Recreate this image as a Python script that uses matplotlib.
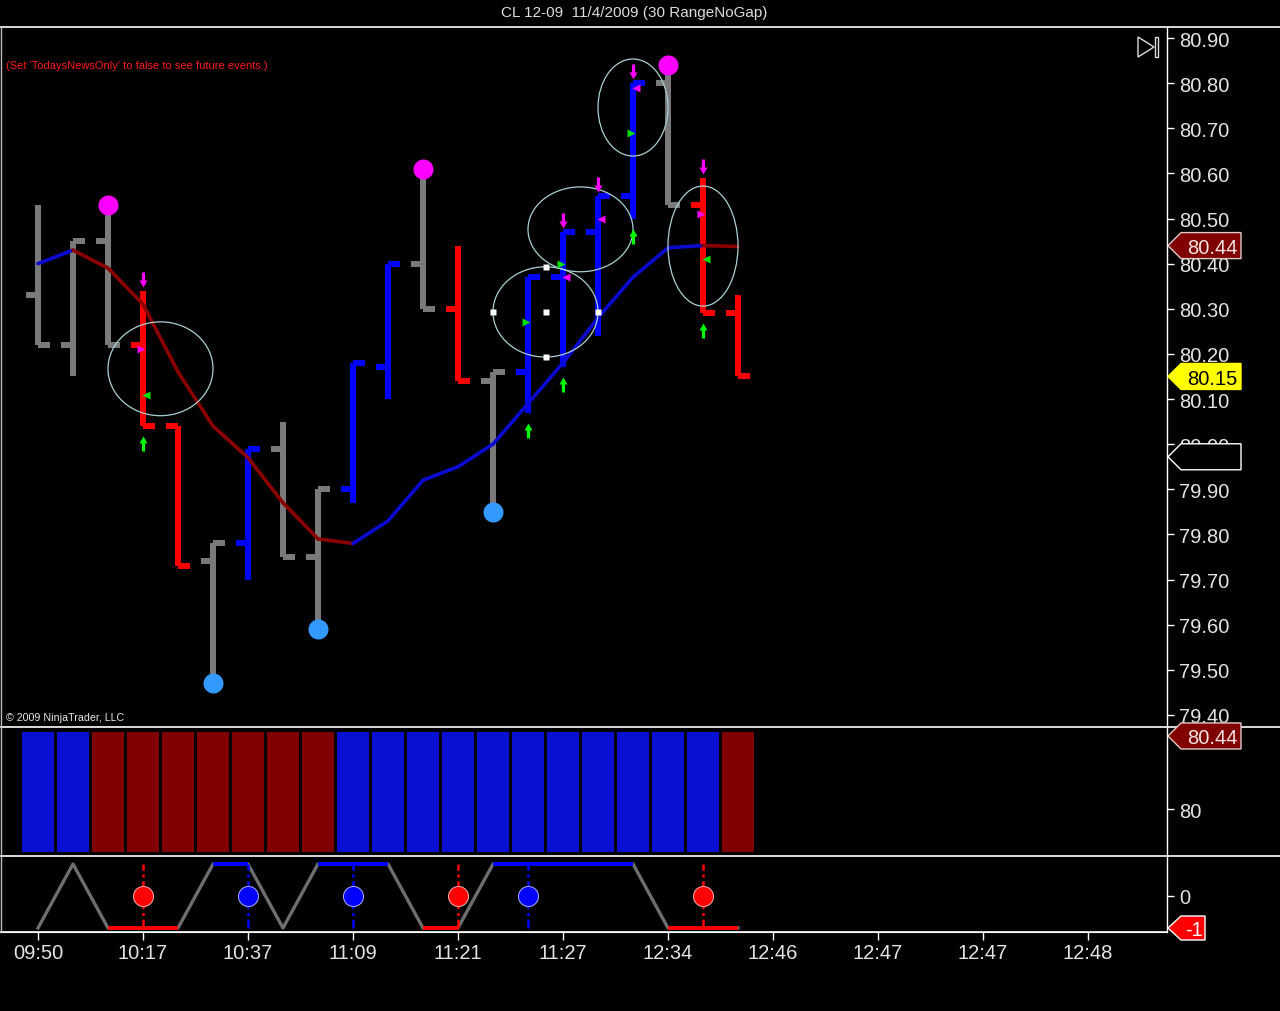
import matplotlib
matplotlib.use("Agg")
import matplotlib.pyplot as plt
from matplotlib.patches import Ellipse, Polygon
from matplotlib.path import Path
from matplotlib.lines import Line2D
from matplotlib.transforms import IdentityTransform
import numpy as np

plt.rcParams['font.family'] = ['Liberation Sans', 'DejaVu Sans']

# ---- values (one entry per range bar) ----
opens  = [80.33, 80.22, 80.45, 80.22, 80.04, 79.74, 79.78, 79.99, 79.75, 79.90, 80.17,
          80.40, 80.30, 80.14, 80.16, 80.37, 80.47, 80.55, 80.80, 80.53, 80.29]
highs  = [80.53, 80.45, 80.53, 80.34, 80.04, 79.78, 79.99, 80.05, 79.90, 80.18, 80.40,
          80.61, 80.44, 80.16, 80.37, 80.47, 80.55, 80.80, 80.84, 80.59, 80.33]
lows   = [80.22, 80.15, 80.22, 80.04, 79.73, 79.47, 79.70, 79.75, 79.59, 79.87, 80.10,
          80.30, 80.14, 79.85, 80.07, 80.17, 80.24, 80.50, 80.53, 80.29, 80.15]
closes = [80.22, 80.45, 80.22, 80.04, 79.73, 79.78, 79.99, 79.75, 79.90, 80.18, 80.40,
          80.30, 80.14, 80.16, 80.37, 80.47, 80.55, 80.80, 80.53, 80.29, 80.15]
bar_kind = ['g', 'g', 'g', 'r', 'r', 'g', 'b', 'g', 'g', 'b', 'b',
            'g', 'r', 'g', 'b', 'b', 'b', 'b', 'g', 'r', 'r']
ma = [80.40, 80.43, 80.39, 80.31, 80.16, 80.04, 79.97, 79.87, 79.79, 79.78, 79.83,
      79.92, 79.95, 80.00, 80.09, 80.18, 80.28, 80.37, 80.435, 80.44, 80.438]
box_trend = [1, 1, -1, -1, -1, -1, -1, -1, -1, 1, 1, 1, 1, 1, 1, 1, 1, 1, 1, 1, -1]
osc = [-1, 1, -1, -1, -1, 1, 1, -1, 1, 1, 1, -1, -1, 1, 1, 1, 1, 1, -1, -1, -1]

swing_high_bars = [2, 11, 18]
swing_low_bars = [5, 8, 13]
down_arrow_bars = [3, 15, 16, 17, 19]
up_arrow_bars = [3, 14, 15, 17, 19]
tri_bars   = [3, 3, 14, 15, 15, 16, 17, 17, 19, 19]
tri_prices = [80.21, 80.11, 80.27, 80.40, 80.37, 80.50, 80.69, 80.79, 80.51, 80.41]
tri_dirs   = ['>', '<', '>', '>', '<', '<', '>', '<', '>', '<']
tri_kind   = ['m', 'gr', 'gr', 'gr', 'm', 'm', 'gr', 'm', 'm', 'gr']
# circles: centre bar, centre price, width in bars, height in price
circ_x = [3.5, 14.5, 15.5, 17.0, 19.0]
circ_y = [80.167, 80.293, 80.476, 80.746, 80.439]
circ_w = [3.0, 3.0, 3.0, 2.0, 2.0]
circ_h = [0.208, 0.200, 0.188, 0.215, 0.266]
sell_sig = [3, 12, 19]
buy_sig = [6, 9, 14]
time_labels = ['09:50', '10:17', '10:37', '11:09', '11:21', '11:27',
               '12:34', '12:46', '12:47', '12:47', '12:48']
last_price = 80.15
ma_last = 80.44
other_tag = 79.972

W, H = 1280, 1012
BAR_COL = {'g': '#7a7a7a', 'r': '#ff0000', 'b': '#0000ff'}
TXT = '#e4e4e4'

fig = plt.figure(figsize=(W / 100, H / 100), dpi=100, facecolor='black')


def frac(x0, y0, x1, y1):
    # pixel box with top-left origin -> figure fraction rect
    return [x0 / W, 1 - y1 / H, (x1 - x0) / W, (y1 - y0) / H]


ax = fig.add_axes(frac(0, 28, 1167, 728))
axm = fig.add_axes(frac(0, 728, 1167, 857))
axb = fig.add_axes(frac(0, 857, 1167, 933))

n = len(opens)
x = np.arange(n)
x_lo = -38 / 35
x_hi = x_lo + 1167 / 35

for a in (ax, axm, axb):
    a.set_facecolor('black')
    a.set_xlim(x_lo, x_hi)
    for s in ('top', 'left', 'bottom'):
        a.spines[s].set_visible(False)
    a.spines['right'].set_color('white')
    a.spines['right'].set_linewidth(1.0)
    a.yaxis.tick_right()
    a.tick_params(axis='y', colors='white', labelcolor=TXT, length=5, width=1,
                  pad=3.5, labelsize=14.5, direction='out')
    a.tick_params(axis='x', bottom=False, labelbottom=False)

# ---- main price panel ----
ax.set_ylim(79.3732, 80.9244)
ax.set_yticks(np.round(np.arange(79.4, 80.91, 0.1), 2))
ax.set_yticklabels([f'{v:.2f}' for v in np.arange(79.4, 80.91, 0.1)])

cols = [BAR_COL[k] for k in bar_kind]
LW = 4.3
tk = 0.35
ax.vlines(x, lows, highs, colors=cols, lw=LW, zorder=2)
ax.hlines(opens, x - tk, x, colors=cols, lw=LW, zorder=2)
ax.hlines(closes, x, x + tk, colors=cols, lw=LW, zorder=2)

for i in range(n - 1):
    c = '#0a0ad0' if ma[i + 1] >= ma[i] else '#8b0000'
    ax.plot(x[i:i + 2], ma[i:i + 2], color=c, lw=2.6, zorder=3, solid_capstyle='round')

for cx, cy, cw, ch in zip(circ_x, circ_y, circ_w, circ_h):
    ax.add_patch(Ellipse((cx, cy), cw, ch, fill=False, ec='#a8d0d4', lw=0.9, zorder=4))

# selection handles on the lower circle
hx = [circ_x[1] - circ_w[1] / 2, circ_x[1], circ_x[1] + circ_w[1] / 2, circ_x[1], circ_x[1]]
hy = [circ_y[1], circ_y[1], circ_y[1], circ_y[1] + circ_h[1] / 2, circ_y[1] - circ_h[1] / 2]
ax.plot(hx, hy, 's', ms=4.4, color='white', mec='none', zorder=6)

ax.plot(swing_high_bars, [highs[i] for i in swing_high_bars], 'o', ms=14.4,
        color='#ff00ff', mec='none', zorder=5)
ax.plot(swing_low_bars, [lows[i] for i in swing_low_bars], 'o', ms=14.4,
        color='#3399ff', mec='none', zorder=5)

# arrow markers, built in pixel units and offset from the anchor point
down_verts = [(-1.6, 19), (1.6, 19), (1.6, 11), (4, 11), (0, 4), (-4, 11), (-1.6, 11), (-1.6, 19)]
up_verts = [(-1.6, -25), (1.6, -25), (1.6, -17), (4, -17), (0, -10), (-4, -17), (-1.6, -17), (-1.6, -25)]
down_path = Path(down_verts, closed=True)
up_path = Path(up_verts, closed=True)
ax.plot(down_arrow_bars, [highs[i] for i in down_arrow_bars], linestyle='none',
        marker=down_path, ms=2 * 19 * 0.72, color='#ff00ff', mec='none', zorder=6)
ax.plot(up_arrow_bars, [lows[i] for i in up_arrow_bars], linestyle='none',
        marker=up_path, ms=2 * 25 * 0.72, color='#00ff00', mec='none', zorder=6)

for b, p, d, k in zip(tri_bars, tri_prices, tri_dirs, tri_kind):
    dx = -0.06 if d == '>' else 0.08
    ax.plot(b + dx, p, marker=d, ms=6, color='#ff00ff' if k == 'm' else '#00e000',
            mec='none', zorder=6)

# ---- trend boxes panel ----
axm.set_ylim(79.717, 80.494)
axm.set_yticks([80])
axm.set_yticklabels(['80'])
axm.bar(x, 80.464 - 79.741, bottom=79.741, width=0.94,
        color=['#0a10d2' if t > 0 else '#800000' for t in box_trend], zorder=2)

# ---- oscillator panel ----
axb.set_ylim(-1.125, 1.25)
axb.set_yticks([0])
axb.set_yticklabels(['0'])
axb.plot(x, osc, color='#6e6e6e', lw=2.4, zorder=2)
for i in range(n - 1):
    if osc[i] == osc[i + 1]:
        axb.plot(x[i:i + 2], osc[i:i + 2], color='#ff0000' if osc[i] < 0 else '#0000ff',
                 lw=2.8, zorder=3, solid_capstyle='butt')
dash = (0, (3.5, 1.5, 1.2, 1.5))
axb.vlines(sell_sig, -1, 1, colors='#ff0000', lw=1.8, linestyles=dash, zorder=2)
axb.vlines(buy_sig, -1, 1, colors='#0000ff', lw=1.8, linestyles=dash, zorder=2)
axb.plot(sell_sig, [0] * len(sell_sig), 'o', ms=14.4, color='#ff0000', mec='#ffb0b0',
         mew=0.7, zorder=4)
axb.plot(buy_sig, [0] * len(buy_sig), 'o', ms=14.4, color='#0000ff', mec='#b0b0ff',
         mew=0.7, zorder=4)

axb.spines['bottom'].set_visible(True)
axb.spines['bottom'].set_color('white')
axb.set_xticks(np.arange(0, 3 * len(time_labels), 3))
axb.set_xticklabels(time_labels)
axb.tick_params(axis='x', bottom=True, labelbottom=True, colors='white', labelcolor=TXT,
                length=6, width=1, labelsize=14.5, pad=2)

# ---- frame lines ----
for yy, x1 in ((28, W), (728, W), (857, W), (933, 1167)):
    fig.add_artist(Line2D([0, x1], [H - yy, H - yy], color='white', lw=1.2,
                          transform=IdentityTransform()))
fig.add_artist(Line2D([0.5, 0.5], [H - 28, H - 933], color='#bbbbbb', lw=1,
                      transform=IdentityTransform()))


# ---- price tags on the axis ----
def tag(a, val, text, fc, tc, ec, w=74, h=26):
    xr = a.get_position().x1 * W
    yv = a.transData.transform((0, val))[1]
    pts = [(xr + 1, yv), (xr + 14, yv + h / 2), (xr + w, yv + h / 2),
           (xr + w, yv - h / 2), (xr + 14, yv - h / 2)]
    fig.add_artist(Polygon(pts, closed=True, fc=fc, ec=ec, lw=1,
                           transform=IdentityTransform(), zorder=5))
    if text:
        fig.text(xr + (14 + w) / 2 + 1, yv, text, color=tc, fontsize=14.5, ha='center',
                 va='center_baseline', transform=IdentityTransform(), zorder=6)


tag(ax, ma_last, f'{ma_last:.2f}', '#800000', '#f4e4e4', '#e0c8c8')
tag(ax, last_price, f'{last_price:.2f}', '#ffff00', 'black', '#ffff00')
tag(ax, other_tag, '', 'black', 'white', 'white')
tag(axm, ma_last, f'{ma_last:.2f}', '#800000', '#f4e4e4', '#e0c8c8')
tag(axb, -1, '-1', '#ff0000', 'white', '#ffffff', w=38, h=24)

# go-to-end icon
fig.add_artist(Polygon([(1138, H - 38), (1138, H - 58), (1154, H - 48)], closed=True,
                       fill=False, ec='#dddddd', lw=1, transform=IdentityTransform()))
fig.add_artist(Polygon([(1155, H - 38), (1158, H - 38), (1158, H - 58), (1155, H - 58)],
                       closed=True, fill=False, ec='#dddddd', lw=1,
                       transform=IdentityTransform()))

# ---- texts ----
fig.text(634 / W, 1 - 13 / H, 'CL 12-09  11/4/2009 (30 RangeNoGap)', color='#dcdcdc',
         fontsize=11, ha='center', va='center')
fig.text(6 / W, 1 - 66 / H, "(Set 'TodaysNewsOnly' to false to see future events.)",
         color='#ff1a1a', fontsize=8, ha='left', va='center')
fig.text(6 / W, 1 - 718 / H, '\u00a9 2009 NinjaTrader, LLC', color='#e8e8e8',
         fontsize=7.7, ha='left', va='center')

fig.savefig('out.png', dpi=100, facecolor='black')
